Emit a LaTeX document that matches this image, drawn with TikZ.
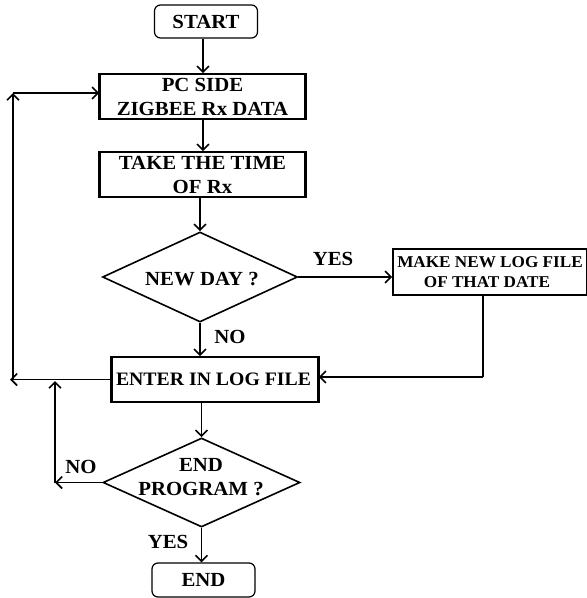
\documentclass[tikz,border=0pt]{standalone}
\usepackage{fontspec}
\setmainfont[FakeStretch=1.04]{Liberation Serif}
\usetikzlibrary{shapes.geometric,arrows.meta}
\begin{document}
\begin{tikzpicture}[x=1pt,y=-1pt,
  line width=1.6pt,
  arr/.style={-{Straight Barb[length=6pt,width=12pt,line width=1.6pt]}},
  txt/.style={font=\fontsize{20}{24}\selectfont\bfseries, align=center},
  term/.style={draw, rounded corners=6pt, line width=1.2pt, inner sep=0pt, txt},
  procbox/.style={draw, inner sep=0pt, txt, minimum width=205pt, minimum height=45pt},
  smallbox/.style={draw, inner sep=0pt, align=center, font=\fontsize{16.5}{19.5}\selectfont\bfseries, minimum width=194pt, minimum height=46pt},
  decision/.style={draw, diamond, inner sep=0pt, aspect=2.17, minimum width=195pt, minimum height=90pt},
  lbl/.style={txt, inner sep=0pt}
]
\useasboundingbox (0,0) rectangle (587,598);
% nodes
\node[term, minimum width=103pt, minimum height=33pt] (start) at (206,21.5) {START};
\node[procbox] (pc) at (202.5,96.5) {PC SIDE\\ZIGBEE Rx DATA};
\node[procbox] (take) at (202.5,174.5) {TAKE THE TIME\\OF Rx};
\node[decision] (newday) at (200,277) {};
\node[txt, inner sep=0pt] (newdayt) at (202,279) {NEW DAY ?};
\node[smallbox] (make) at (490,272) {MAKE NEW LOG FILE\\\hspace*{-6pt}OF THAT DATE};
\node[procbox, minimum width=206pt, font=\fontsize{19}{24}\selectfont\bfseries] (enter) at (215,379.5) {\hspace*{-3pt}ENTER IN LOG FILE};
\node[decision, minimum width=197pt, minimum height=89pt] (endq) at (201.5,482.5) {};
\node[txt, inner sep=0pt] (endqt) at (201,477) {END\\PROGRAM ?};
\node[term, minimum width=103pt, minimum height=34pt] (end) at (203.5,580) {END};
% thick side edges
\foreach \b in {pc,take,enter}{
  \draw[line width=3pt] (\b.north west) -- (\b.south west);
  \draw[line width=3pt] (\b.north east) -- (\b.south east);
}
% labels
\node[lbl] (yes1) at (333,259) {YES};
\node[lbl] (no1) at (230,337) {NO};
\node[lbl] (no2) at (81,467) {NO};
\node[lbl] (yes2) at (168,542) {YES};
% coordinates
\coordinate (c1) at (203,0);
\coordinate (mk) at (483,295);
\coordinate (mkb) at (483,377);
\coordinate (l1) at (10,379.5);
\coordinate (l1b) at (13,379.5);
\coordinate (l1t) at (13,93);
\coordinate (l2) at (55,482.5);
\coordinate (l2t) at (55,381);
% connectors
\draw[arr] (c1 |- start.south) -- (c1 |- pc.north);
\draw[arr] (c1 |- pc.south) -- (c1 |- take.north);
\draw[arr] (newday.north |- take.south) -- (newday.north);
\draw[arr] (newday.east) -- (make.west |- newday.east);
\draw[arr] (newday.south) -- (newday.south |- enter.north);
\draw (mk) -- (mkb);
\draw[arr] (mkb) -- (enter.east |- mkb);
\draw[arr] (endq.north |- enter.south) -- (endq.north);
\draw[arr] (endq.south) -- (end.north -| endq.south);
\draw[arr] (enter.west) -- (l1);
\draw[arr] (l1b) -- (l1t);
\draw[arr] (l1t) -- (pc.west |- l1t);
\draw[arr] (endq.west) -- (l2);
\draw[arr] (l2) -- (l2t);
\end{tikzpicture}
\end{document}
